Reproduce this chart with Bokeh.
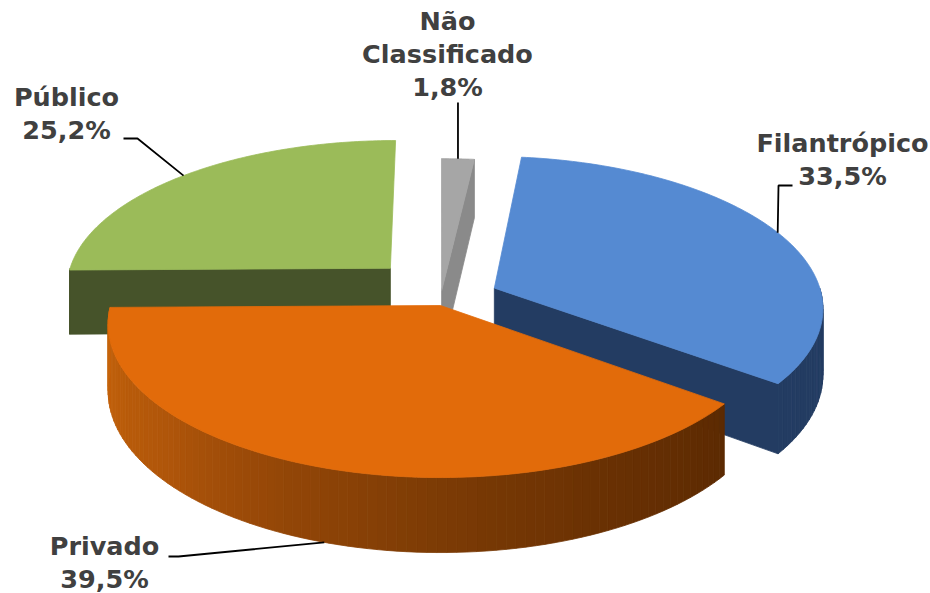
import numpy as np
from bokeh.plotting import figure
from bokeh.models import Range1d
from bokeh.core.properties import value
from bokeh.embed import file_html
from bokeh.resources import INLINE

# ---- data (clockwise from 12 o'clock) ----
categories = ["Não\nClassificado", "Filantrópico", "Privado", "Público"]
shares = [1.8, 33.5, 39.5, 25.2]
pct_labels = ["1,8%", "33,5%", "39,5%", "25,2%"]

# ---- style ----
explode = [0.06, 0.18, 0.0, 0.22]
top_colors = ["#A6A6A6", "#558AD2", "#E26B0A", "#9BBB59"]
side_colors = ["#8A8A8A", "#233C62", None, "#46532A"]
orange_wall_stops = [(127, "#5C2A02"), (155, "#6A3103"), (180, "#7C3B05"),
                     (205, "#934607"), (230, "#B0560A"), (270, "#C8650B")]
draw_order = [3, 0, 1, 2]

# projection parameters (screen px)
CX, CY = 440.0, 305.0
A, B, P, D, G = 330.0, 151.4, 0.12, 66.0, 1.64

# label layout (block centres) and leader elbows
label_xy = [(447, 53.5), (842, 158.5), (104, 562), (66, 113)]
line_pitch = 33
leader_from = [None, [(792, 185), (778, 185)], [(168, 556), (178, 556)], [(123, 138), (137, 138)]]
W, H = 930, 593


def proj(X, Z, h):
    s = 1.0 / (1.0 - P * Z)
    return CX + A * X * s, CY + B * Z * s + h * D * s


def hex2rgb(h):
    return np.array([int(h[i:i + 2], 16) for i in (1, 3, 5)], dtype=float)


def grad(t):
    ts = [s[0] for s in orange_wall_stops]
    cs = np.array([hex2rgb(s[1]) for s in orange_wall_stops])
    c = [np.interp(t, ts, cs[:, k]) for k in range(3)]
    return "#%02x%02x%02x" % tuple(int(round(v)) for v in c)


edges = np.concatenate([[0.0], np.cumsum(shares) / 100.0 * 360.0])

xs, ys, cols = [], [], []
anchors = [None] * 4

for i in draw_order:
    t1, t2 = edges[i], edges[i + 1]
    m = np.radians((t1 + t2) / 2)
    Xc = explode[i] * np.sin(m)
    Zc = -explode[i] * np.cos(m) * G

    def pt(t_deg, r, h, Xc=Xc, Zc=Zc):
        t = np.radians(t_deg)
        return proj(Xc + r * np.sin(t), Zc - r * np.cos(t), h)

    # outer wall (front half)
    lo, hi = max(t1, 90.0), min(t2, 270.0)
    if hi > lo:
        ts = np.linspace(lo, hi, max(int((hi - lo) / 1.5), 2))
        for a, b in zip(ts[:-1], ts[1:]):
            p1, p2, p3, p4 = pt(a, 1, 0), pt(b, 1, 0), pt(b, 1, 1), pt(a, 1, 1)
            xs.append([p1[0], p2[0], p3[0], p4[0]])
            ys.append([p1[1], p2[1], p3[1], p4[1]])
            cols.append(side_colors[i] if side_colors[i] else grad((a + b) / 2))
    # radial cut faces
    for t, vis in ((t1, -np.sin(np.radians(t1)) > 1e-6), (t2, np.sin(np.radians(t2)) > 1e-6)):
        if vis:
            c0, e0, e1, c1 = pt(t, 0, 0), pt(t, 1, 0), pt(t, 1, 1), pt(t, 0, 1)
            xs.append([c0[0], e0[0], e1[0], c1[0]])
            ys.append([c0[1], e0[1], e1[1], c1[1]])
            cols.append(side_colors[i] if side_colors[i] else grad(t))
    # top face
    arc = [pt(t, 1, 0) for t in np.linspace(t1, t2, 120)]
    c0 = pt(0, 0, 0)
    xs.append([c0[0]] + [q[0] for q in arc])
    ys.append([c0[1]] + [q[1] for q in arc])
    cols.append(top_colors[i])
    # leader anchor
    md = (t1 + t2) / 2
    anchors[i] = pt(md, 1, 1) if np.cos(m) < 0 else pt(md, 1, 0)

p = figure(width=W, height=H, x_range=Range1d(0, W), y_range=Range1d(H, 0),
           output_backend="svg", toolbar_location=None, min_border=0,
           x_axis_type=None, y_axis_type=None)
p.xgrid.visible = False
p.ygrid.visible = False
p.outline_line_color = None
p.background_fill_color = "white"

p.patches(xs, ys, fill_color=cols, line_color=cols, line_width=0.8)

# leader lines
lx, ly = [], []
for i in range(4):
    ax, ay = anchors[i]
    pts = leader_from[i] if leader_from[i] else [(ax, 102)]
    lx.append([q[0] for q in pts] + [ax])
    ly.append([q[1] for q in pts] + [ay])
p.multi_line(lx, ly, line_color="black", line_width=1.8)

# labels, one text per line
tx, ty, tt = [], [], []
for (cx, cy), cat, pct in zip(label_xy, categories, pct_labels):
    lines = cat.split("\n") + [pct]
    n = len(lines)
    for k, s in enumerate(lines):
        tx.append(cx)
        ty.append(cy + (k - (n - 1) / 2) * line_pitch)
        tt.append(s)
p.text(x=tx, y=ty, text=tt, text_align="center", text_baseline="middle",
       text_font=value("DejaVu Sans"), text_font_style="bold",
       text_font_size="25.5px", text_color="#404040")

open("out.html", "w").write(file_html(p, INLINE))
